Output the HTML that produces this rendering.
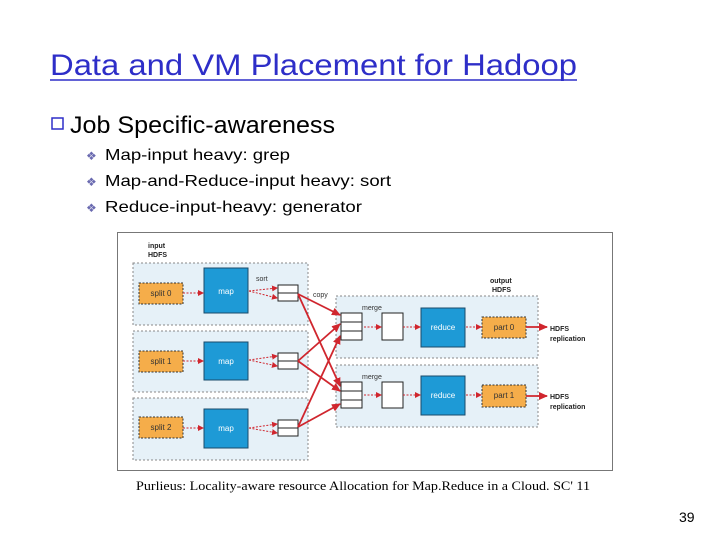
<!DOCTYPE html>
<html><head><meta charset="utf-8"><style>body{margin:0;background:#fff}svg{display:block}</style></head><body>
<svg width="720" height="540" xmlns="http://www.w3.org/2000/svg" font-family="Liberation Sans, sans-serif">
<defs>
<marker id="a" markerWidth="6" markerHeight="6" refX="5" refY="3" orient="auto" markerUnits="userSpaceOnUse"><path d="M0,0L6,3L0,6z" fill="#d0262e"/></marker>
<marker id="b" markerWidth="9" markerHeight="8" refX="8" refY="4" orient="auto" markerUnits="userSpaceOnUse"><path d="M0,0L9,4L0,8z" fill="#d0262e"/></marker>
</defs>
<text x="50" y="75" font-size="30" fill="#2e2ec8" textLength="527" lengthAdjust="spacingAndGlyphs">Data and VM Placement for Hadoop</text>
<line x1="50" y1="80" x2="577" y2="80" stroke="#2e2ec8" stroke-width="1.5"/>
<rect x="52" y="118" width="11" height="11" fill="none" stroke="#2e2ec8" stroke-width="1.5"/>
<text x="70" y="133" font-size="24" fill="#000" textLength="265" lengthAdjust="spacingAndGlyphs">Job Specific-awareness</text>
<g font-size="16" fill="#000">
<text x="86" y="160" fill="#6a6ab0" font-size="12">❖</text><text x="105" y="160" textLength="185" lengthAdjust="spacingAndGlyphs">Map-input heavy: grep</text>
<text x="86" y="186" fill="#6a6ab0" font-size="12">❖</text><text x="105" y="186" textLength="286" lengthAdjust="spacingAndGlyphs">Map-and-Reduce-input heavy: sort</text>
<text x="86" y="212" fill="#6a6ab0" font-size="12">❖</text><text x="105" y="212" textLength="257" lengthAdjust="spacingAndGlyphs">Reduce-input-heavy: generator</text>
</g>
<rect x="117.5" y="232.5" width="495" height="238" fill="#fff" stroke="#777"/>
<g fill="#e6f1f8" stroke="#888" stroke-dasharray="2,2">
<rect x="133" y="263" width="175" height="62"/><rect x="133" y="331" width="175" height="61"/><rect x="133" y="398" width="175" height="62"/>
<rect x="336" y="296" width="202" height="62"/><rect x="336" y="365" width="202" height="62"/>
</g>
<g font-size="7" font-weight="bold" fill="#222">
<text x="148" y="248">input</text><text x="148" y="257">HDFS</text>
<text x="490" y="283">output</text><text x="492" y="292">HDFS</text>
<text x="550" y="331">HDFS</text><text x="550" y="341">replication</text>
<text x="550" y="399">HDFS</text><text x="550" y="409">replication</text>
</g>
<g font-size="7" fill="#333"><text x="256" y="281">sort</text><text x="313" y="297">copy</text><text x="362" y="310">merge</text><text x="362" y="379">merge</text></g>
<g fill="#f5ad4a" stroke="#333" stroke-dasharray="2,1.5">
<rect x="139" y="283" width="44" height="21"/><rect x="139" y="351" width="44" height="21"/><rect x="139" y="417" width="44" height="21"/>
<rect x="482" y="317" width="44" height="21"/><rect x="482" y="385" width="44" height="22"/>
</g>
<g font-size="8" fill="#333" text-anchor="middle"><text x="161" y="296">split 0</text><text x="161" y="364">split 1</text><text x="161" y="430">split 2</text><text x="504" y="330">part 0</text><text x="504" y="398">part 1</text></g>
<g fill="#1e9ad6" stroke="#1a4a6a">
<rect x="204" y="268" width="44" height="45"/><rect x="204" y="342" width="44" height="38"/><rect x="204" y="409" width="44" height="39"/>
<rect x="421" y="308" width="44" height="39"/><rect x="421" y="376" width="44" height="39"/>
</g>
<g font-size="8" fill="#fff" text-anchor="middle"><text x="226" y="294">map</text><text x="226" y="364">map</text><text x="226" y="431">map</text><text x="443" y="330">reduce</text><text x="443" y="398">reduce</text></g>
<g fill="#fff" stroke="#222">
<rect x="278" y="285" width="20" height="16"/><line x1="278" y1="293" x2="298" y2="293"/>
<rect x="278" y="353" width="20" height="16"/><line x1="278" y1="361" x2="298" y2="361"/>
<rect x="278" y="420" width="20" height="16"/><line x1="278" y1="428" x2="298" y2="428"/>
<rect x="341" y="313" width="21" height="27"/><line x1="341" y1="322" x2="362" y2="322"/><line x1="341" y1="331" x2="362" y2="331"/>
<rect x="341" y="382" width="21" height="26"/><line x1="341" y1="391" x2="362" y2="391"/><line x1="341" y1="400" x2="362" y2="400"/>
<rect x="382" y="313" width="21" height="27"/><rect x="382" y="382" width="21" height="26"/>
</g>
<g stroke="#d0262e" stroke-width="1" stroke-dasharray="2,1.5" marker-end="url(#a)" fill="none">
<line x1="183" y1="293" x2="203" y2="293"/><line x1="183" y1="361" x2="203" y2="361"/><line x1="183" y1="428" x2="203" y2="428"/>
<line x1="249" y1="291" x2="277" y2="288"/><line x1="249" y1="291" x2="277" y2="298"/>
<line x1="249" y1="360" x2="277" y2="356"/><line x1="249" y1="360" x2="277" y2="366"/>
<line x1="249" y1="428" x2="277" y2="424"/><line x1="249" y1="428" x2="277" y2="433"/>
<line x1="364" y1="327" x2="381" y2="327"/><line x1="403" y1="327" x2="420" y2="327"/><line x1="466" y1="327" x2="481" y2="327"/>
<line x1="364" y1="395" x2="381" y2="395"/><line x1="403" y1="395" x2="420" y2="395"/><line x1="466" y1="395" x2="481" y2="395"/>
</g>
<g stroke="#d0262e" stroke-width="1.8" marker-end="url(#b)" fill="none">
<line x1="298" y1="294" x2="340" y2="315"/><line x1="298" y1="294" x2="340" y2="386"/>
<line x1="298" y1="361" x2="340" y2="324"/><line x1="298" y1="361" x2="340" y2="391"/>
<line x1="298" y1="427" x2="340" y2="336"/><line x1="298" y1="427" x2="340" y2="404"/>
<line x1="526" y1="327" x2="547" y2="327"/><line x1="526" y1="396" x2="547" y2="396"/>
</g>
<text x="136" y="490" font-family="Liberation Serif, serif" font-size="13" textLength="454" lengthAdjust="spacingAndGlyphs">Purlieus: Locality-aware resource Allocation for Map.Reduce  in a Cloud. SC' 11</text>
<text x="679" y="522" font-size="14">39</text>
</svg>
</body></html>
